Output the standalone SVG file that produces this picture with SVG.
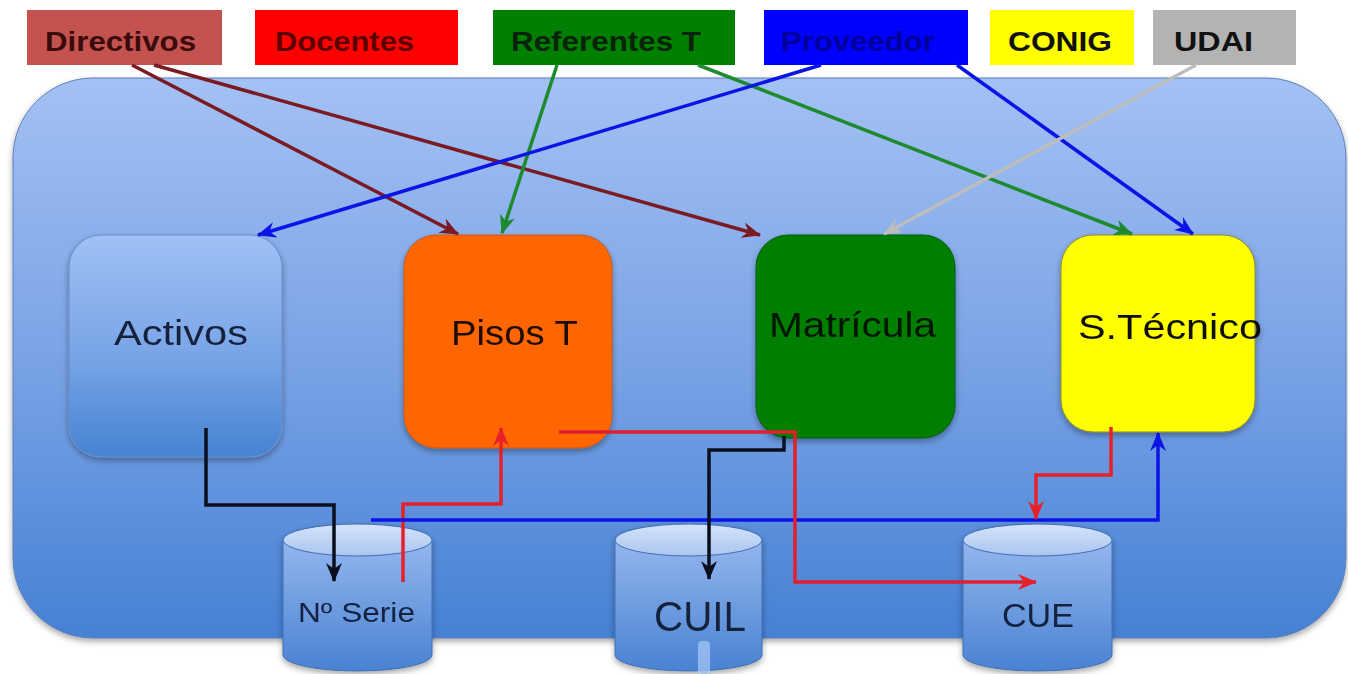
<svg xmlns="http://www.w3.org/2000/svg" width="1348" height="674" viewBox="0 0 1348 674">
<defs>
<linearGradient id="gCont" x1="0" y1="0" x2="0" y2="1">
<stop offset="0" stop-color="#a3c1f4"/>
<stop offset="0.5" stop-color="#7aa3e6"/>
<stop offset="1" stop-color="#4681d4"/>
</linearGradient>
<linearGradient id="gAct" x1="0" y1="0" x2="0" y2="1">
<stop offset="0" stop-color="#9fc1f6"/>
<stop offset="0.55" stop-color="#78a4e6"/>
<stop offset="1" stop-color="#4683d2"/>
</linearGradient>
<linearGradient id="gCyl" x1="0" y1="0" x2="0" y2="1">
<stop offset="0" stop-color="#93b7ee"/>
<stop offset="1" stop-color="#4a82d2"/>
</linearGradient>
<linearGradient id="gTop" x1="0" y1="0" x2="0" y2="1">
<stop offset="0" stop-color="#d4e3f9"/>
<stop offset="1" stop-color="#a9c5f1"/>
</linearGradient>
<filter id="sh" x="-10%" y="-10%" width="120%" height="130%">
<feGaussianBlur in="SourceAlpha" stdDeviation="3"/>
<feOffset dx="0" dy="3" result="b"/>
<feComponentTransfer><feFuncA type="linear" slope="0.35"/></feComponentTransfer>
<feMerge><feMergeNode/><feMergeNode in="SourceGraphic"/></feMerge>
</filter>
<marker id="aDR" markerUnits="userSpaceOnUse" markerWidth="19" markerHeight="16" refX="18" refY="8" orient="auto"><path d="M0,0 L19,8 L0,16 L6,8 Z" fill="#7a1a22"/></marker>
<marker id="aG" markerUnits="userSpaceOnUse" markerWidth="19" markerHeight="16" refX="18" refY="8" orient="auto"><path d="M0,0 L19,8 L0,16 L6,8 Z" fill="#1e8a2e"/></marker>
<marker id="aB" markerUnits="userSpaceOnUse" markerWidth="19" markerHeight="16" refX="18" refY="8" orient="auto"><path d="M0,0 L19,8 L0,16 L6,8 Z" fill="#0a14e6"/></marker>
<marker id="aGr" markerUnits="userSpaceOnUse" markerWidth="19" markerHeight="16" refX="18" refY="8" orient="auto"><path d="M0,0 L19,8 L0,16 L6,8 Z" fill="#bdbdbd"/></marker>
<marker id="aK" markerUnits="userSpaceOnUse" markerWidth="19" markerHeight="16" refX="18" refY="8" orient="auto"><path d="M0,0 L19,8 L0,16 L6,8 Z" fill="#0a0f1e"/></marker>
<marker id="aR" markerUnits="userSpaceOnUse" markerWidth="19" markerHeight="16" refX="18" refY="8" orient="auto"><path d="M0,0 L19,8 L0,16 L6,8 Z" fill="#e8202a"/></marker>
</defs>
<style>
.lbl{font-family:"Liberation Sans",Arial,sans-serif;font-weight:bold;font-size:27px}
.nt{font-family:"Liberation Sans",Arial,sans-serif;font-size:35px}
.ct{font-family:"Liberation Sans",Arial,sans-serif;fill:#14213d}
.c{fill:none;stroke-width:3.5;stroke-linejoin:miter}
.cyl{fill:url(#gCyl);stroke:#3f6eb4;stroke-width:1}
.cyltop{fill:url(#gTop);stroke:#3f6eb4;stroke-width:1}
</style>
<rect width="1348" height="674" fill="#ffffff"/>

<g id="container">
<rect x="13" y="78" width="1333" height="560" rx="80" ry="80" fill="url(#gCont)" stroke="#5d7fb8" stroke-width="1" filter="url(#sh)"/>
</g>

<g id="lbl-directivos"><rect x="27" y="10" width="195" height="55" fill="#c4524f"/><text class="lbl" x="45" y="51" textLength="151" lengthAdjust="spacingAndGlyphs" fill="#3a0b0b">Directivos</text></g>
<g id="lbl-docentes"><rect x="255" y="10" width="203" height="55" fill="#ff0000"/><text class="lbl" x="275" y="51" textLength="139" lengthAdjust="spacingAndGlyphs" fill="#5a0000">Docentes</text></g>
<g id="lbl-referentes"><rect x="493" y="10" width="242" height="55" fill="#017f01"/><text class="lbl" x="511" y="51" textLength="190" lengthAdjust="spacingAndGlyphs" fill="#0a230a">Referentes T</text></g>
<g id="lbl-proveedor"><rect x="764" y="10" width="204" height="55" fill="#0000ff"/><text class="lbl" x="781" y="51" textLength="154" lengthAdjust="spacingAndGlyphs" fill="#00009a">Proveedor</text></g>
<g id="lbl-conig"><rect x="990" y="10" width="144" height="55" fill="#ffff00"/><text class="lbl" x="1008" y="51" textLength="104" lengthAdjust="spacingAndGlyphs" fill="#111111">CONIG</text></g>
<g id="lbl-udai"><rect x="1153" y="10" width="143" height="55" fill="#b3b3b3"/><text class="lbl" x="1174" y="51" textLength="79" lengthAdjust="spacingAndGlyphs" fill="#111111">UDAI</text></g>

<g id="node-activos" filter="url(#sh)"><rect x="69" y="235" width="213" height="222" rx="32" fill="url(#gAct)" stroke="#6a90c8" stroke-width="1.2"/><text class="nt" x="114" y="345" textLength="134" lengthAdjust="spacingAndGlyphs" fill="#14213d">Activos</text></g>
<g id="node-pisos" filter="url(#sh)"><rect x="404" y="235" width="208" height="213" rx="32" fill="#ff6600" stroke="#c75a1a" stroke-width="1"/><text class="nt" x="451" y="345" textLength="127" lengthAdjust="spacingAndGlyphs" fill="#1a0a00">Pisos T</text></g>
<g id="node-matricula" filter="url(#sh)"><rect x="756" y="235" width="199" height="203" rx="32" fill="#017e01" stroke="#0b5a12" stroke-width="1"/><text class="nt" x="769" y="337" textLength="167" lengthAdjust="spacingAndGlyphs" fill="#051505">Matrícula</text></g>
<g id="node-stecnico" filter="url(#sh)"><rect x="1061" y="235" width="194" height="197" rx="32" fill="#ffff00" stroke="#8a8a30" stroke-width="1"/><text class="nt" x="1078" y="339" textLength="184" lengthAdjust="spacingAndGlyphs" fill="#111111">S.Técnico</text></g>

<g id="db-serie" filter="url(#sh)">
<path class="cyl" d="M283,540 L283,655 A74.5,16 0 0 0 432,655 L432,540 Z"/>
<ellipse class="cyltop" cx="357.5" cy="540" rx="74.5" ry="16"/>
<text class="ct" x="298" y="622" font-size="27" textLength="117" lengthAdjust="spacingAndGlyphs">Nº Serie</text>
</g>
<g id="db-cuil" filter="url(#sh)">
<path class="cyl" d="M615,540 L615,655 A73.5,16 0 0 0 762,655 L762,540 Z"/>
<ellipse class="cyltop" cx="688.5" cy="540" rx="73.5" ry="16"/>
<rect x="698" y="641" width="12" height="33" rx="4" fill="#9ec0f2" opacity="0.8"/>
<text class="ct" x="654" y="631" font-size="42" textLength="92" lengthAdjust="spacingAndGlyphs">CUIL</text>
</g>
<g id="db-cue" filter="url(#sh)">
<path class="cyl" d="M963,540 L963,655 A74.5,16 0 0 0 1112,655 L1112,540 Z"/>
<ellipse class="cyltop" cx="1037.5" cy="540" rx="74.5" ry="16"/>
<text class="ct" x="1002" y="627" font-size="33" textLength="72" lengthAdjust="spacingAndGlyphs">CUE</text>
</g>

<g id="connectors">
<line class="c" x1="132" y1="65" x2="458" y2="234" stroke="#7a1a22" marker-end="url(#aDR)"/>
<line class="c" x1="154" y1="65" x2="760" y2="235" stroke="#7a1a22" marker-end="url(#aDR)"/>
<line class="c" x1="557" y1="65" x2="502" y2="233" stroke="#1e8a2e" stroke-width="3" marker-end="url(#aG)"/>
<line class="c" x1="698" y1="65" x2="1132" y2="234" stroke="#1e8a2e" stroke-width="3" marker-end="url(#aG)"/>
<line class="c" x1="821" y1="65" x2="258" y2="235" stroke="#0a14e6" marker-end="url(#aB)"/>
<line class="c" x1="957" y1="65" x2="1193" y2="234" stroke="#0a14e6" marker-end="url(#aB)"/>
<line class="c" x1="1196" y1="65" x2="884" y2="234" stroke="#bdbdbd" stroke-width="4" marker-end="url(#aGr)"/>
<path class="c" d="M206,428 L206,505 L334,505 L334,581" stroke="#0a0f1e" marker-end="url(#aK)"/>
<path class="c" d="M403,582 L403,504 L501,504 L501,428" stroke="#e8202a" marker-end="url(#aR)"/>
<path class="c" d="M371,520 L1158,520 L1158,433" stroke="#0a14e6" marker-end="url(#aB)"/>
<path class="c" d="M559,432 L795,432 L795,582 L1036,582" stroke="#e0202e" marker-end="url(#aR)"/>
<path class="c" d="M784,436 L784,450 L709,450 L709,579" stroke="#0a0f1e" marker-end="url(#aK)"/>
<path class="c" d="M1111,427 L1111,475 L1036,475 L1036,519" stroke="#e8202a" marker-end="url(#aR)"/>
</g>
</svg>
